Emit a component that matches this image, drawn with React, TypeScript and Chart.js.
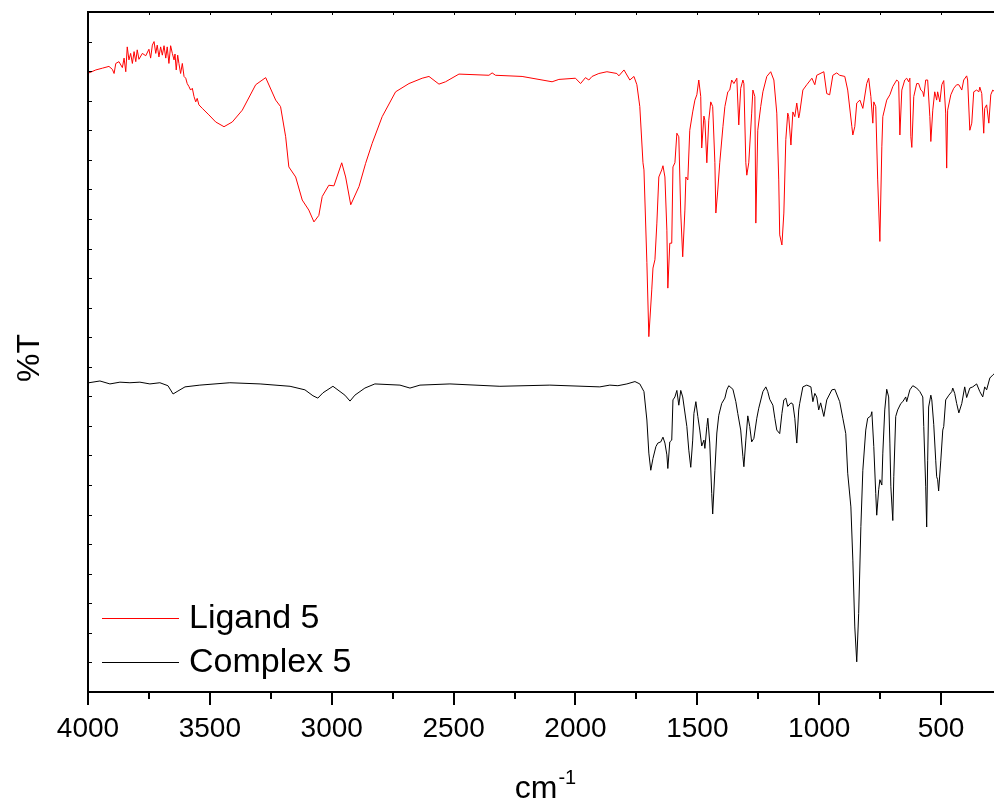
import React, { useEffect, useRef } from "react";
import { Chart, registerables } from "chart.js";

Chart.register(...registerables);

// ---- axis settings ----
const X_MIN = 250;
const X_MAX = 4000;
const X_TICKS = [4000, 3500, 3000, 2500, 2000, 1500, 1000, 500];
const X_MINOR = [3750, 3250, 2750, 2250, 1750, 1250, 750];
const X_TOP_TICKS = [3750, 3500, 3250, 3000, 2750, 2500, 2250, 2000, 1750, 1500, 1250, 1000, 750, 500];
const Y_MIN = 0;
const Y_MAX = 115;
const Y_STEP = 5;

const X_TITLE = "cm";
const X_TITLE_SUP = "-1";
const Y_TITLE = "%T";

// ---- Ligand 5 ----
const LIGAND_LABEL = "Ligand 5";
const LIGAND_WN = [
  3996, 3968, 3941, 3914, 3900, 3893, 3886, 3873, 3859, 3852, 3845, 3839, 3832, 3825, 3818, 3811, 3804, 3798, 3791,
  3777, 3763, 3750, 3743, 3736, 3729, 3722, 3716, 3709, 3702, 3695, 3688, 3681, 3675, 3668, 3661, 3654, 3647, 3643,
  3638, 3632, 3627, 3620, 3613, 3606, 3599, 3593, 3586, 3579, 3572, 3565, 3558, 3552, 3545, 3531, 3504, 3476, 3442,
  3408, 3367, 3312, 3271, 3230, 3210, 3189, 3176, 3148, 3121, 3094, 3073, 3053, 3039, 3012, 2991, 2959, 2943, 2922,
  2888, 2861, 2834, 2793, 2738, 2683, 2629, 2601, 2560, 2533, 2478, 2355, 2342, 2328, 2219, 2096, 2068, 2000, 1979,
  1959, 1945, 1932, 1904, 1871, 1830, 1822, 1801, 1777, 1760, 1748, 1736, 1723, 1719, 1707, 1699, 1687, 1682, 1674,
  1666, 1658, 1646, 1641, 1633, 1625, 1621, 1613, 1605, 1600, 1592, 1584, 1576, 1568, 1560, 1551, 1547, 1539, 1531,
  1519, 1510, 1502, 1494, 1486, 1482, 1473, 1469, 1461, 1453, 1445, 1437, 1428, 1424, 1416, 1408, 1395, 1387, 1375,
  1367, 1359, 1350, 1338, 1330, 1322, 1313, 1309, 1301, 1297, 1289, 1277, 1272, 1264, 1260, 1252, 1240, 1231, 1215,
  1199, 1186, 1174, 1166, 1162, 1153, 1145, 1137, 1129, 1125, 1116, 1108, 1100, 1092, 1084, 1080, 1067, 1051, 1030,
  1018, 1010, 981, 969, 957, 944, 928, 916, 895, 883, 866, 862, 854, 846, 833, 821, 805, 797, 788, 780, 776, 768, 760,
  751, 743, 739, 723, 710, 698, 682, 674, 669, 661, 649, 641, 633, 628, 624, 620, 612, 600, 592, 583, 575, 571, 563,
  555, 546, 542, 534, 526, 518, 514, 505, 497, 489, 481, 477, 473, 460, 448, 436, 427, 415, 407, 395, 391, 382, 374,
  366, 354, 345, 341, 333, 325, 321, 313, 304, 296, 288, 280,
];
const LIGAND_T = [
  104.7, 105.2, 105.5, 105.8, 105.3, 104.6, 106.3, 106.6, 105.6, 107.2, 104.9, 109.1, 106.9, 108.0, 106.3, 108.3, 106.6,
  108.6, 107.0, 108.0, 107.6, 108.7, 107.2, 109.4, 110.0, 108.0, 109.4, 107.4, 109.1, 107.7, 109.3, 107.2, 109.1,
  106.3, 109.3, 108.0, 106.9, 107.9, 105.2, 107.7, 106.3, 104.6, 106.3, 104.1, 103.8, 102.9, 102.4, 101.8, 102.1,
  100.7, 99.8, 100.4, 99.3, 98.7, 97.6, 96.4, 95.6, 96.4, 98.4, 102.7, 103.9, 100.1, 99.0, 93.9, 88.8, 87.1, 83.2,
  81.5, 79.5, 80.6, 83.8, 85.7, 85.6, 89.5, 87.1, 82.4, 85.5, 89.4, 92.8, 97.3, 101.5, 102.9, 103.8, 104.1, 102.8,
  103.2, 104.5, 104.3, 104.7, 104.3, 104.1, 103.2, 103.6, 103.8, 102.9, 103.9, 103.5, 104.1, 104.6, 104.9, 104.6,
  104.2, 105.2, 103.5, 104.1, 102.7, 99.0, 89.5, 88.3, 72.6, 60.1, 68.0, 71.7, 73.1, 79.3, 87.1, 88.3, 89.0, 87.1,
  78.1, 68.3, 75.9, 75.9, 88.8, 89.5, 94.5, 93.9, 81.0, 73.6, 81.5, 87.1, 86.6, 95.0, 98.1, 100.1, 101.0, 103.5,
  100.7, 92.0, 97.4, 96.7, 89.5, 96.7, 99.8, 99.0, 89.5, 81.0, 84.9, 89.5, 95.6, 99.0, 101.5, 101.8, 103.5, 102.9,
  103.8, 95.9, 102.1, 103.5, 102.9, 89.5, 87.4, 89.5, 97.9, 101.8, 100.7, 79.3, 95.0, 99.0, 101.5, 104.1, 104.9,
  103.5, 97.9, 86.6, 77.3, 75.6, 81.0, 93.4, 97.9, 97.3, 92.5, 98.1, 97.3, 99.6, 97.1, 97.9, 101.8, 102.7, 103.8,
  102.7, 104.3, 104.9, 101.2, 101.0, 104.3, 104.7, 104.3, 104.1, 101.8, 95.6, 94.2, 95.6, 99.6, 100.1, 98.7, 102.9,
  103.8, 100.7, 96.2, 99.8, 99.0, 86.6, 76.2, 92.2, 97.3, 100.1, 101.0, 102.4, 103.5, 103.2, 94.2, 101.8, 103.5,
  103.8, 103.2, 103.8, 93.9, 92.1, 100.7, 102.9, 102.9, 101.8, 101.5, 100.7, 103.5, 103.5, 97.3, 93.1, 98.4, 101.5,
  100.1, 101.5, 99.8, 102.7, 103.4, 97.9, 88.6, 98.4, 101.0, 102.1, 102.7, 102.7, 101.8, 103.5, 104.2, 103.5, 95.0,
  96.2, 101.5, 101.8, 101.5, 102.3, 101.2, 94.5, 98.7, 99.3, 96.2, 101.0, 101.8, 101.5,
];

// ---- Complex 5 ----
const COMPLEX_LABEL = "Complex 5";
const COMPLEX_WN = [
  3996, 3951, 3910, 3869, 3828, 3787, 3746, 3705, 3672, 3651, 3631, 3602, 3541, 3418, 3294, 3171, 3110, 3077, 3057,
  3036, 2995, 2946, 2925, 2905, 2864, 2823, 2720, 2679, 2638, 2515, 2310, 2105, 1900, 1859, 1826, 1789, 1756, 1736,
  1719, 1707, 1699, 1691, 1682, 1670, 1662, 1650, 1641, 1633, 1625, 1621, 1613, 1605, 1600, 1592, 1584, 1576, 1568,
  1560, 1543, 1535, 1527, 1519, 1514, 1506, 1498, 1490, 1482, 1473, 1469, 1461, 1457, 1449, 1441, 1437, 1428, 1420,
  1412, 1400, 1387, 1379, 1371, 1354, 1342, 1334, 1322, 1313, 1309, 1301, 1293, 1285, 1277, 1268, 1256, 1248, 1231,
  1219, 1211, 1203, 1190, 1182, 1174, 1162, 1153, 1145, 1137, 1129, 1116, 1108, 1100, 1092, 1084, 1080, 1067, 1051,
  1034, 1026, 1018, 1010, 1002, 994, 981, 969, 948, 936, 916, 903, 891, 883, 870, 862, 854, 846, 838, 829, 821, 809,
  801, 788, 784, 776, 768, 764, 756, 751, 743, 739, 731, 723, 715, 710, 706, 698, 694, 686, 678, 665, 657, 645, 641,
  628, 616, 600, 587, 575, 571, 563, 559, 555, 551, 542, 538, 530, 522, 518, 514, 510, 501, 493, 489, 481, 468, 456,
  452, 444, 436, 427, 415, 403, 395, 382, 370, 354, 341, 329, 321, 313, 300, 288, 280,
];
const COMPLEX_T = [
  52.3, 52.6, 52.1, 52.4, 52.3, 52.4, 52.1, 52.3, 51.8, 50.4, 50.9, 51.6, 51.9, 52.3, 52.1, 51.7, 51.1, 50.1, 49.7,
  50.6, 51.7, 50.2, 49.2, 50.2, 51.4, 52.1, 51.9, 51.4, 51.9, 52.1, 51.7, 51.9, 51.6, 51.9, 51.8, 52.1, 52.5, 52.1,
  50.8, 46.0, 40.4, 37.5, 39.5, 41.5, 42.1, 42.3, 43.1, 42.1, 40.1, 37.8, 42.3, 42.6, 49.4, 49.9, 51.0, 48.5, 51.0,
  49.9, 44.9, 40.9, 38.0, 42.6, 47.1, 49.1, 46.6, 44.3, 41.6, 42.6, 41.2, 44.9, 46.3, 42.1, 33.6, 30.1, 37.5, 43.8,
  46.8, 48.8, 49.7, 51.1, 51.8, 51.2, 49.1, 47.1, 44.3, 39.8, 38.1, 42.6, 46.7, 44.9, 42.3, 42.9, 46.3, 48.0, 50.8,
  51.6, 50.8, 49.5, 48.5, 46.3, 44.3, 43.7, 47.1, 49.4, 49.7, 48.3, 48.9, 48.7, 46.3, 42.1, 47.7, 48.8, 51.6, 51.9,
  51.6, 49.1, 50.5, 49.9, 47.7, 48.9, 46.6, 49.4, 51.1, 51.2, 49.1, 46.3, 43.7, 37.0, 31.3, 22.3, 11.0, 5.1, 13.3,
  28.0, 37.5, 44.3, 46.3, 46.7, 47.4, 41.5, 33.6, 29.9, 34.2, 35.9, 35.0, 40.4, 47.7, 51.2, 49.9, 42.1, 34.7, 29.0,
  36.4, 46.6, 47.7, 48.8, 49.1, 49.9, 49.1, 51.1, 51.8, 51.4, 50.8, 49.9, 44.9, 34.7, 27.9, 39.2, 48.2, 50.2, 49.4,
  45.2, 39.2, 36.4, 35.9, 34.0, 39.2, 44.3, 44.9, 49.4, 50.2, 50.8, 51.4, 50.5, 48.8, 47.2, 48.8, 51.6, 49.8, 51.4,
  51.6, 52.1, 50.8, 49.9, 51.6, 51.1, 53.1, 53.6, 53.9,
];

const LIGAND_COLOR = "#ff0000";
const COMPLEX_COLOR = "#000000";
const FONT = '"Liberation Sans", Arial, sans-serif';

const toPoints = (xs: number[], ys: number[]) => xs.map((x, i) => ({ x, y: ys[i] }));

const framePlugin = {
  id: "frame",
  afterDraw(chart: any) {
    const { ctx, chartArea, scales } = chart;
    const { left, right, top, bottom } = chartArea;
    const xs = scales.x;
    const ys = scales.y;
    ctx.save();
    ctx.strokeStyle = "#000";
    // frame
    ctx.lineWidth = 2;
    ctx.strokeRect(left, top, right - left, bottom - top);
    // bottom major ticks (outward)
    ctx.beginPath();
    for (const v of X_TICKS) {
      const px = Math.round(xs.getPixelForValue(v));
      ctx.moveTo(px, bottom);
      ctx.lineTo(px, bottom + 13);
    }
    for (const v of X_MINOR) {
      const px = Math.round(xs.getPixelForValue(v));
      ctx.moveTo(px, bottom);
      ctx.lineTo(px, bottom + 7);
    }
    ctx.stroke();
    // top ticks (inward)
    ctx.lineWidth = 1;
    ctx.beginPath();
    for (const v of X_TOP_TICKS) {
      const px = Math.round(xs.getPixelForValue(v)) + 0.5;
      ctx.moveTo(px, top);
      ctx.lineTo(px, top + 3);
    }
    // left ticks (inward)
    for (let v = Y_MIN + Y_STEP; v < Y_MAX; v += Y_STEP) {
      const py = Math.round(ys.getPixelForValue(v)) + 0.5;
      ctx.moveTo(left, py);
      ctx.lineTo(left + 4, py);
    }
    ctx.stroke();

    // axis titles
    ctx.fillStyle = "#000";
    ctx.font = `32px ${FONT}`;
    ctx.textBaseline = "alphabetic";
    ctx.textAlign = "left";
    const wcm = ctx.measureText(X_TITLE).width;
    ctx.font = `20px ${FONT}`;
    const wsup = ctx.measureText(X_TITLE_SUP).width;
    const cx = (left + right) / 2;
    const sx = cx - (wcm + wsup) / 2;
    ctx.font = `32px ${FONT}`;
    ctx.fillText(X_TITLE, sx, 798);
    ctx.font = `20px ${FONT}`;
    ctx.fillText(X_TITLE_SUP, sx + wcm + 1, 784);

    ctx.save();
    ctx.translate(30, (top + bottom) / 2 + 6);
    ctx.rotate(-Math.PI / 2);
    ctx.font = `32px ${FONT}`;
    ctx.textAlign = "center";
    ctx.textBaseline = "middle";
    ctx.fillText(Y_TITLE, 0, 0);
    ctx.restore();

    // legend
    ctx.font = `34px ${FONT}`;
    ctx.textAlign = "left";
    ctx.textBaseline = "middle";
    const rows = [
      { y: bottom - 74 },
      { y: bottom - 30 },
    ];
    chart.data.datasets.forEach((ds: any, i: number) => {
      const y = rows[i].y;
      ctx.strokeStyle = ds.borderColor;
      ctx.lineWidth = 1;
      ctx.beginPath();
      ctx.moveTo(left + 14, y + 0.5);
      ctx.lineTo(left + 91, y + 0.5);
      ctx.stroke();
      ctx.fillStyle = "#000";
      ctx.fillText(ds.label, left + 101, y + 1);
    });
    ctx.restore();
  },
};

export default function App() {
  const ref = useRef<HTMLCanvasElement | null>(null);

  useEffect(() => {
    if (!ref.current) return;
    const chart = new Chart(ref.current, {
      type: "line",
      data: {
        datasets: [
          {
            label: LIGAND_LABEL,
            data: toPoints(LIGAND_WN, LIGAND_T),
            borderColor: LIGAND_COLOR,
            backgroundColor: LIGAND_COLOR,
            borderWidth: 1,
            pointRadius: 0,
            tension: 0,
          },
          {
            label: COMPLEX_LABEL,
            data: toPoints(COMPLEX_WN, COMPLEX_T),
            borderColor: COMPLEX_COLOR,
            backgroundColor: COMPLEX_COLOR,
            borderWidth: 1,
            pointRadius: 0,
            tension: 0,
          },
        ],
      },
      options: {
        animation: false,
        responsive: false,
        devicePixelRatio: 1,
        layout: { padding: { left: 88, right: 38, top: 12, bottom: 0 } },
        plugins: {
          legend: { display: false },
          tooltip: { enabled: false },
          title: { display: false },
        },
        scales: {
          x: {
            type: "linear",
            reverse: true,
            min: X_MIN,
            max: X_MAX,
            grid: { display: false, drawTicks: false },
            border: { display: false },
            afterBuildTicks: (scale: any) => {
              scale.ticks = X_TICKS.map((v) => ({ value: v }));
            },
            afterFit: (scale: any) => {
              scale.height = 112;
            },
            ticks: {
              padding: 20,
              color: "#000",
              maxRotation: 0,
              autoSkip: false,
              font: { family: FONT, size: 28 },
              callback: (v: any) => String(v),
            },
          },
          y: {
            type: "linear",
            display: false,
            min: Y_MIN,
            max: Y_MAX,
          },
        },
      },
      plugins: [framePlugin],
    });
    return () => chart.destroy();
  }, []);

  return (
    <div
      style={{
        position: "fixed",
        left: 0,
        top: 0,
        width: 994,
        height: 804,
        overflow: "hidden",
        background: "#fff",
      }}
    >
      <canvas ref={ref} width={1040} height={804} style={{ width: 1040, height: 804, display: "block" }} />
    </div>
  );
}
